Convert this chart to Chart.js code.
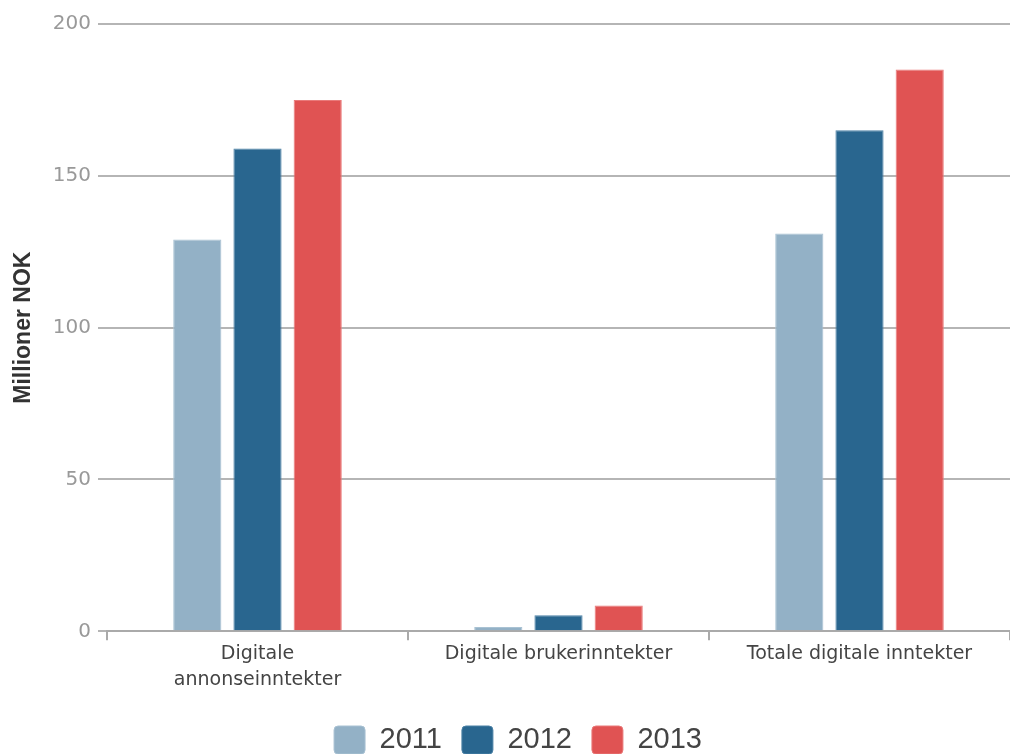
<!DOCTYPE html>
<html>
<head>
<meta charset="utf-8">
<script src="https://cdn.jsdelivr.net/npm/chart.js@4"></script>
<style>
  html, body { margin: 0; padding: 0; background: #fff; }
  #wrap { width: 1010px; height: 754px; }
</style>
</head>
<body>
<div id="wrap"><canvas id="barChart"></canvas></div>
<script>
// data
const categories = [
  ["Digitale", "annonseinntekter"],
  "Digitale brukerinntekter",
  "Totale digitale inntekter",
];
const years = ["2011", "2012", "2013"];
const values2011 = [129, 1.4, 131];
const values2012 = [159, 5.3, 165];
const values2013 = [175, 8.5, 185];
const yTicks = [0, 50, 100, 150, 200];

const colors = ["#93b1c6", "#29668f", "#e05353"];
const borders = ["#a9c2d3", "#4d82a6", "#e97a7a"];

const series = [values2011, values2012, values2013];

// legend sits a bit right of the canvas centre in the original
const shiftLegend = {
  id: "shiftLegend",
  afterLayout(chart) {
    chart.legend.left += 11;
    chart.legend.right += 11;
  },
};

new Chart(document.getElementById("barChart"), {
  type: "bar",
  data: {
    labels: categories,
    datasets: series.map((values, i) => ({
      label: years[i],
      data: values,
      backgroundColor: colors[i],
      borderColor: borders[i],
      borderWidth: 1,
      categoryPercentage: 0.6,
      barPercentage: 0.8,
    })),
  },
  plugins: [shiftLegend],
  options: {
    responsive: true,
    maintainAspectRatio: false,
    animation: false,
    // the plot runs a few pixels past the right edge in the original
    layout: { padding: { top: 24, right: -4, left: 0, bottom: -10.5 } },
    plugins: {
      tooltip: { enabled: false },
      legend: {
        position: "bottom",
        title: {
          display: true,
          text: " ",
          font: { size: 1, lineHeight: 1 },
          padding: { top: 11, bottom: 0 },
        },
        labels: {
          boxWidth: 31,
          boxHeight: 28,
          useBorderRadius: true,
          borderRadius: 4,
          padding: 20,
          color: "#444",
          font: { family: "'Liberation Sans', Arial, sans-serif", size: 29 },
        },
      },
    },
    scales: {
      x: {
        grid: {
          display: true,
          drawOnChartArea: false,
          drawTicks: true,
          tickLength: 9,
          color: "#aaa",
          lineWidth: 2,
        },
        border: { display: true, color: "#aaa", width: 2 },
        ticks: {
          color: "#444",
          padding: 0,
          maxRotation: 0,
          font: { family: "'DejaVu Sans', sans-serif", size: 19, lineHeight: 1.4 },
        },
      },
      y: {
        min: 0,
        max: 200,
        afterBuildTicks: (scale) => {
          scale.ticks = yTicks.map((v) => ({ value: v }));
        },
        afterFit: (scale) => {
          scale.width = 107;
        },
        grid: {
          color: "#b5b5b5",
          lineWidth: 2,
          drawTicks: true,
          tickLength: 9,
        },
        border: { display: false },
        ticks: {
          color: "#999",
          padding: 7,
          font: { family: "'DejaVu Sans', sans-serif", size: 20 },
        },
        title: {
          display: true,
          text: "Millioner NOK",
          color: "#333",
          padding: { top: 10, bottom: 0 },
          font: { family: "'Liberation Sans', Arial, sans-serif", size: 23, weight: "bold" },
        },
      },
    },
  },
});
</script>
</body>
</html>
